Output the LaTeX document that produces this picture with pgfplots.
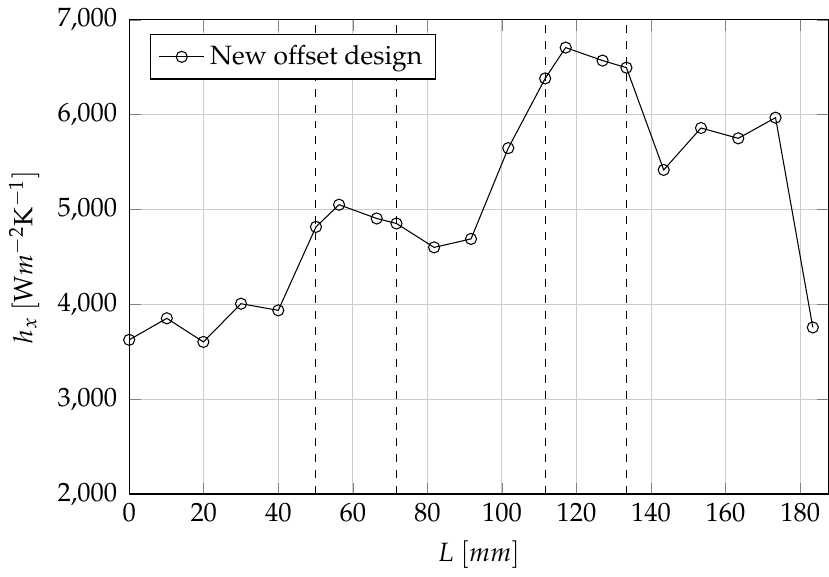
\documentclass[border=0pt]{standalone}
\usepackage[T1]{fontenc}
\usepackage{mathpazo}
\usepackage{pgfplots}
\pgfplotsset{compat=1.18}
\begin{document}
\begin{tikzpicture}
\begin{axis}[
  scale only axis,
  width=264pt, height=179pt,
  xmin=0, xmax=187.6,
  ymin=2000, ymax=7000,
  xtick={0,20,...,180},
  ytick={2000,3000,...,7000},
  grid=major,
  major grid style={gray!40},
  xlabel={$L\ [mm]$},
  ylabel={$h_x\ [\mathrm{W}m^{-2}\mathrm{K}^{-1}]$},
  yticklabel style={xshift=-1pt},
  legend pos=north west,
  legend cell align=left,
  legend style={font=\normalsize},
]
\addplot[black, mark=o, mark size=2.1pt] coordinates {
(0,3626) (10.1,3853) (19.9,3604) (30,4007) (40,3937)
(50.1,4817) (56.3,5051) (66.4,4906) (71.7,4853) (81.8,4601)
(91.7,4690) (101.7,5648) (111.6,6383) (117.1,6708) (127.0,6571)
(133.4,6496) (143.4,5418) (153.4,5860) (163.4,5751) (173.4,5969)
(183.4,3757)
};
\addlegendentry{New offset design}
\addplot[black, dashed, forget plot] coordinates {(50,2000) (50,7000)};
\addplot[black, dashed, forget plot] coordinates {(71.7,2000) (71.7,7000)};
\addplot[black, dashed, forget plot] coordinates {(111.6,2000) (111.6,7000)};
\addplot[black, dashed, forget plot] coordinates {(133.4,2000) (133.4,7000)};
\end{axis}
\end{tikzpicture}
\end{document}
